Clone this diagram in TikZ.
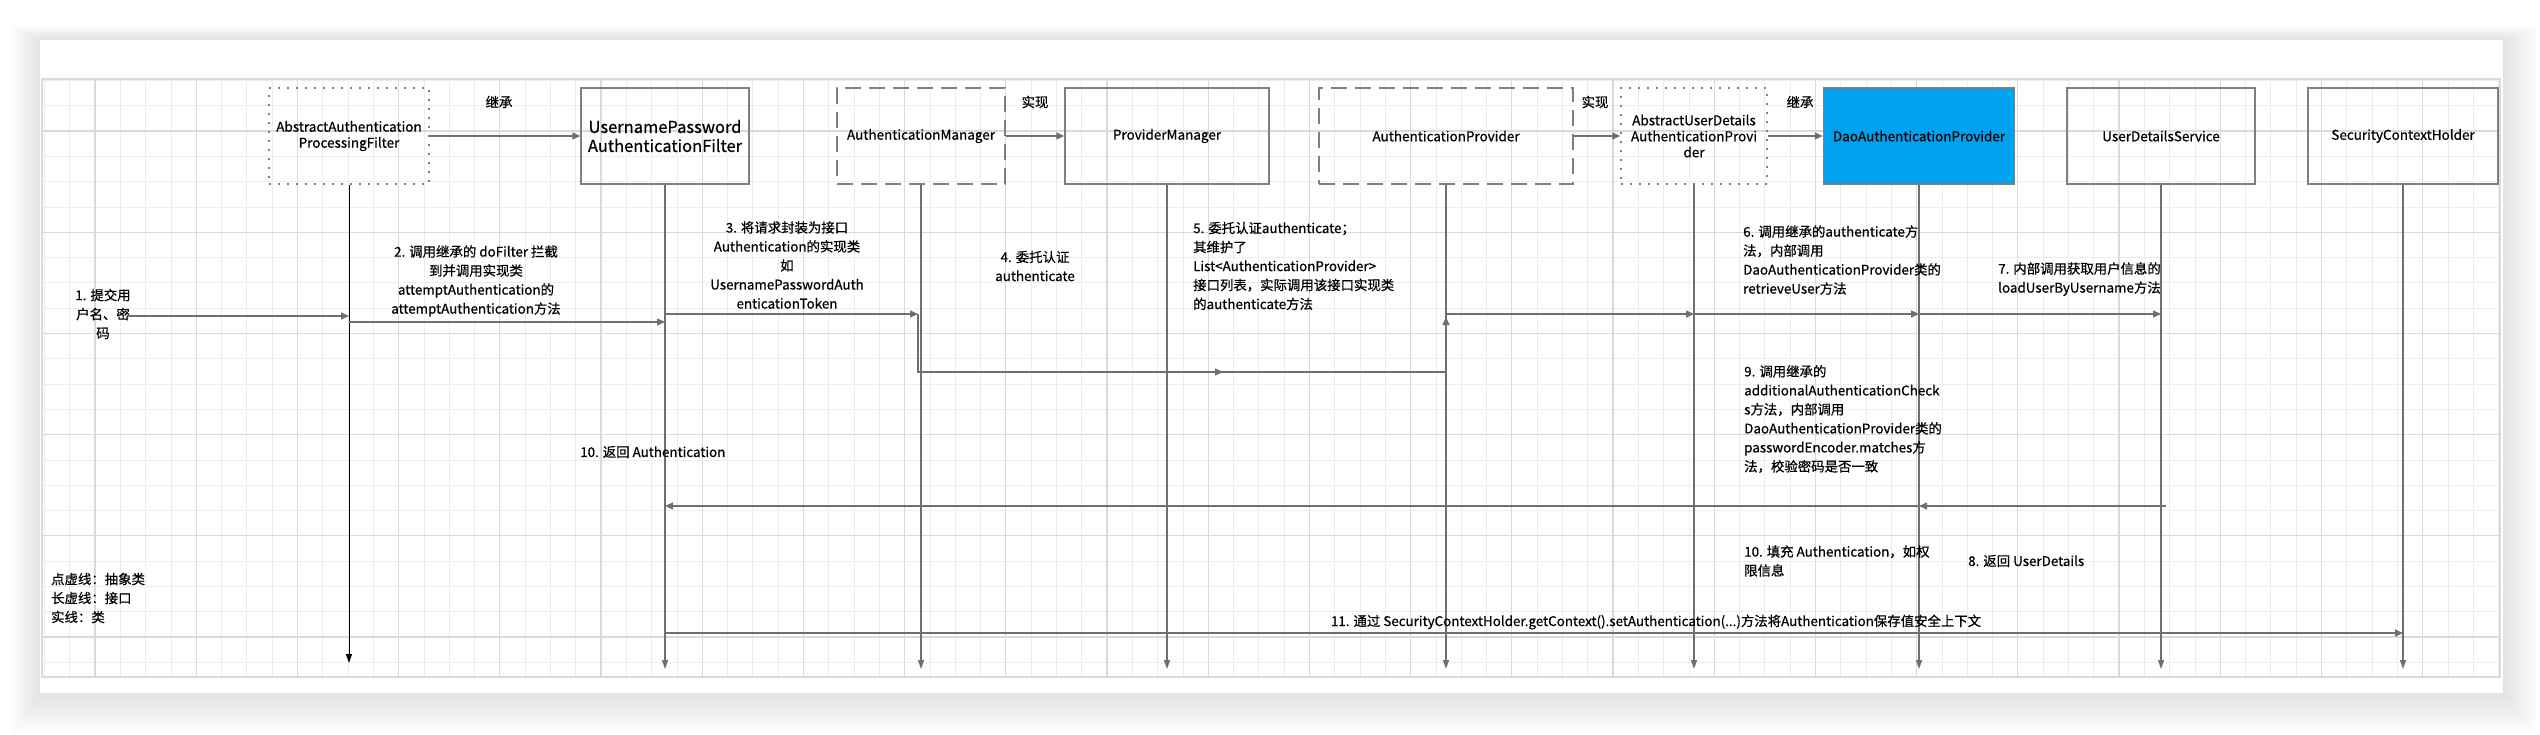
\documentclass[tikz,border=0pt]{standalone}
\usepackage{fontspec}
\setmainfont{Noto Sans CJK SC}[FakeBold=0.6]
\usetikzlibrary{arrows.meta}
\definecolor{boxgray}{HTML}{7F7F7F}
\definecolor{msggray}{HTML}{6F6F6F}
\definecolor{daoblue}{HTML}{00A2EE}
\definecolor{gridlight}{HTML}{EDEDED}
\definecolor{griddark}{HTML}{DADADA}
\begin{document}
\begin{tikzpicture}[x=1pt,y=-1pt,
  cls/.style={draw=boxgray,line width=1.5pt,minimum width=#1,minimum height=96pt,inner sep=0pt,align=center,font=\fontsize{13.5}{16}\selectfont},
  abscls/.style={cls=#1,dash pattern=on 2pt off 7pt},
  iface/.style={cls=#1,dash pattern=on 16pt off 8pt},
  lbl/.style={inner sep=0pt,align=center,font=\fontsize{13.4}{19}\selectfont},
  lbll/.style={lbl,align=left,anchor=west},
  msg/.style={draw=msggray,line width=1.5pt,-{Triangle[length=8pt,width=7pt]}},
  life/.style={draw=msggray,line width=1.3pt,-{Triangle[length=9pt,width=6pt]}},
  gridminor/.style={draw=gridlight,line width=0.8pt},
  gridmajor/.style={draw=griddark,line width=1.1pt}]
\useasboundingbox (0,0) rectangle (2540,734);

%Canvas
\foreach \i in {1,...,14}
  \fill[black,opacity=0.007] ({40-2*\i},{40-\i}) rectangle ({2503+2.5*\i},{693+3*\i});
\fill[white] (40,40) rectangle (2503,693);
\foreach \i in {0,...,97}
  \draw[gridminor] ({44.4+25.3*\i},79) -- ({44.4+25.3*\i},677);
\foreach \j in {0,...,23}
  \draw[gridminor] (42,{80.4+25.3*\j}) -- (2500,{80.4+25.3*\j});
\foreach \i in {0,...,23}
  \draw[gridmajor] ({95+101.2*\i},79) -- ({95+101.2*\i},677);
\foreach \j in {0,...,5}
  \draw[gridmajor] (42,{131+101.2*\j}) -- (2500,{131+101.2*\j});
\draw[gridmajor] (42,79) rectangle (2500,677);

%Classes
\node[abscls=160pt] (aapf) at (349,136) {AbstractAuthentication\\ProcessingFilter};
\node[cls=168pt,font=\fontsize{16.5}{19}\selectfont] (upf) at (665,136) {UsernamePassword\\AuthenticationFilter};
\node[iface=168pt] (am) at (921,136) {AuthenticationManager};
\node[cls=204pt] (pm) at (1167,136) {ProviderManager};
\node[iface=254pt] (ap) at (1446,136) {AuthenticationProvider};
\node[abscls=146pt] (audap) at (1694,136) {AbstractUserDetails\\AuthenticationProvi\\der};
\node[cls=191pt,fill=daoblue] (dap) at (1919,136) {DaoAuthenticationProvider};
\node[cls=188pt] (uds) at (2161,136) {UserDetailsService};
\node[cls=190pt] (sch) at (2403,136) {SecurityContextHolder};

%Lifelines
\coordinate (aapf-end) at (aapf |- 0,663);
\draw[life,draw=black,line width=0.9pt] (aapf.south) -- (aapf-end);
\foreach \n in {upf,am,pm,ap,audap,dap,uds,sch}{
  \coordinate (\n-end) at (\n |- 0,669);
  \draw[life] (\n.south) -- (\n-end);
}

%Inheritance
\draw[msg] (aapf.east) -- (upf.west);
\draw[msg] (am.east) -- (pm.west);
\draw[msg] (ap.east) -- (audap.west);
\draw[msg] (audap.east) -- (dap.west);
\node[lbl] (inh1) at (499,102) {继承};
\node[lbl] (impl1) at (1035,102) {实现};
\node[lbl] (impl2) at (1595,102) {实现};
\node[lbl] (inh2) at (1800,102) {继承};

%Messages
\coordinate (user) at (127,316);
\coordinate (amx) at ([xshift=-3pt]am.south);
\coordinate (udsx) at ([xshift=5pt]uds.south);
\coordinate (m4end) at (1223,372);
\draw[msg] (user) -- (aapf |- 0,316);
\draw[msg] (aapf |- 0,322) -- (upf |- 0,322);
\draw[msg] (upf |- 0,314) -- (amx |- 0,314);
\draw[msg] (amx |- 0,314) |- (m4end);
\draw[msg] (pm |- 0,372) -| (ap |- 0,317);
\draw[msg] (ap |- 0,314) -- (audap |- 0,314);
\draw[msg] (audap |- 0,314) -- (dap |- 0,314);
\draw[msg] (dap |- 0,314) -- (uds |- 0,314);
\draw[msg] (udsx |- 0,506) -- (dap |- 0,506);
\draw[msg] (dap |- 0,506) -- (upf |- 0,506);
\draw[msg,line width=2.6pt] (upf |- 0,633) -- (sch |- 0,633);

%Labels
\node[lbl] (l1) at (103,314) {1. 提交用\\户名、密\\码};
\node[lbl] (l2) at (476,281) {2. 调用继承的 doFilter 拦截\\到并调用实现类\\attemptAuthentication的\\attemptAuthentication方法};
\node[lbl] (l3) at (787,265) {3. 将请求封装为接口\\Authentication的实现类\\如\\UsernamePasswordAuth\\enticationToken};
\node[lbl] (l4) at (1035,266) {4. 委托认证\\authenticate};
\node[lbll] (l5) at (1193,266) {5. 委托认证authenticate；\\其维护了\\List<AuthenticationProvider>\\接口列表，实际调用该接口实现类\\的authenticate方法};
\node[lbll] (l6) at (1743,260) {6. 调用继承的authenticate方\\法，内部调用\\DaoAuthenticationProvider类的\\retrieveUser方法};
\node[lbll] (l7) at (1998,279) {7. 内部调用获取用户信息的\\loadUserByUsername方法};
\node[lbll] (l9) at (1744,419) {9. 调用继承的\\additionalAuthenticationCheck\\s方法，内部调用\\DaoAuthenticationProvider类的\\passwordEncoder.matches方\\法，校验密码是否一致};
\node[lbll] (l10a) at (580,452) {10. 返回 Authentication};
\node[lbll] (l10b) at (1744,561) {10. 填充 Authentication，如权\\限信息};
\node[lbll] (l8) at (1968,561) {8. 返回 UserDetails};
\node[lbl] (l11) at (1656,622) {11. 通过 SecurityContextHolder.getContext().setAuthentication(...)方法将Authentication保存值安全上下文};

%Legend
\node[lbll] (legend) at (51,598) {点虚线：抽象类\\长虚线：接口\\实线：类};
\end{tikzpicture}
\end{document}
